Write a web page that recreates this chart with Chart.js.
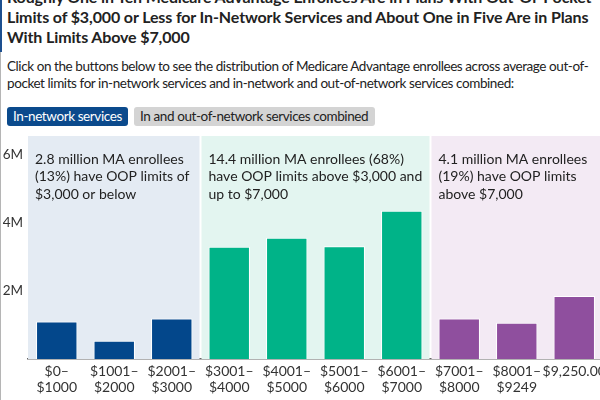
<!DOCTYPE html>
<html>
<head>
<meta charset="utf-8">
<script src="https://cdn.jsdelivr.net/npm/chart.js@4"></script>
<style>
  html, body { margin: 0; padding: 0; }
  body { width: 600px; height: 400px; overflow: hidden; position: relative; background: #fff; font-family: Lato, sans-serif; color: #222; }
  #edge { position: absolute; left: 0; top: 0; width: 1px; height: 400px; background: #b5b5b5; }
  #edgeTop { position: absolute; left: 0; top: 0; width: 2px; height: 52px; background: #1d4f8f; }
  #title { position: absolute; left: 7px; top: -13px; font-weight: 700; font-size: 16px; line-height: 20px; letter-spacing: -0.13px; white-space: nowrap; color: #222; }
  #sub { position: absolute; left: 7px; top: 58px; font-size: 13.5px; line-height: 17px; letter-spacing: -0.42px; white-space: nowrap; color: #222; }
  .btn { position: absolute; top: 107px; height: 19px; line-height: 19px; font-size: 13.5px; letter-spacing: -0.4px; border-radius: 3px; padding: 0 0 0 6px; white-space: nowrap; box-sizing: border-box; }
  #btn1 { left: 7px; width: 121px; background: #0b4a8c; color: #fff; }
  #btn2 { left: 134px; width: 241px; background: #d4d4d4; color: #222; }
  #wrap { position: absolute; left: 0; top: 130px; width: 620px; height: 270px; }
</style>
</head>
<body>
<div id="edge"></div>
<div id="edgeTop"></div>
<div id="title">Roughly One in Ten Medicare Advantage Enrollees Are in Plans With Out-Of-Pocket<br>Limits of $3,000 or Less for In-Network Services and About One in Five Are in Plans<br>With Limits Above $7,000</div>
<div id="sub">Click on the buttons below to see the distribution of Medicare Advantage enrollees across average out-of-<br>pocket limits for in-network services and in-network and out-of-network services combined:</div>
<div class="btn" id="btn1">In-network services</div>
<div class="btn" id="btn2">In and out-of-network services combined</div>
<div id="wrap"><canvas id="chart" width="620" height="270"></canvas></div>

<script>
// Categories (out-of-pocket limit ranges)
const limitLabels = [
    ['$0–', '$1000'], ['$1001–', '$2000'], ['$2001–', '$3000'],
    ['$3001–', '$4000'], ['$4001–', '$5000'], ['$5001–', '$6000'], ['$6001–', '$7000'],
    ['$7001–', '$8000'], ['$8001–', '$9249'], '$9,250.00'
];

// Enrollees per range
const enrollees = [1100000, 540000, 1190000, 3300000, 3570000, 3320000, 4360000, 1190000, 1070000, 1850000];

// Groups
const groupStart = [0, 3, 7];
const groupEnd = [2, 6, 9];
const groupBarColors = ['#03478b', '#00b388', '#8f4f9e'];
const groupBandColors = ['#e4ebf3', '#e3f5f0', '#f3eaf4'];
const groupNotes = [
    ['2.8 million MA enrollees', '(13%) have OOP limits of', '$3,000 or below'],
    ['14.4 million MA enrollees (68%)', 'have OOP limits above $3,000 and', 'up to $7,000'],
    ['4.1 million MA enrollees', '(19%) have OOP limits', 'above $7,000']
];

// Y Ticks
const yTicks = [2000000, 4000000, 6000000];

// Bar Colors
const barColors = enrollees.map(function (v, i) {
    let g = 0;
    for (let k = 0; k < groupStart.length; k++) {
        if (i >= groupStart[k] && i <= groupEnd[k]) { g = k; }
    }
    return groupBarColors[g];
});

// Bands Plugin
const bandsPlugin = {
    id: 'bands',
    beforeDatasetsDraw: function (chart) {
        const ctx = chart.ctx;
        const x = chart.scales.x;
        const area = chart.chartArea;
        const half = (x.getPixelForValue(1) - x.getPixelForValue(0)) / 2;
        ctx.save();
        for (let k = 0; k < groupStart.length; k++) {
            const x0 = x.getPixelForValue(groupStart[k]) - half + (k > 0 ? 1 : 0);
            const x1 = x.getPixelForValue(groupEnd[k]) + half - 1;
            ctx.fillStyle = groupBandColors[k];
            ctx.fillRect(x0, area.top, x1 - x0, area.bottom - area.top);

            // Note
            ctx.fillStyle = '#222';
            ctx.font = '14px Lato';
            ctx.textBaseline = 'middle';
            ctx.textAlign = 'left';
            groupNotes[k].forEach(function (line, j) {
                ctx.fillText(line, x0 + 7, area.top + 23 + j * 17.5);
            });
        }
        ctx.restore();
    }
};

Chart.defaults.font.family = 'Lato';
Chart.defaults.color = '#333';

const ctx = document.getElementById('chart').getContext('2d');
new Chart(ctx, {
    type: 'bar',
    data: {
        labels: limitLabels,
        datasets: [{
            data: enrollees,
            backgroundColor: barColors,
            borderColor: '#ffffff',
            borderWidth: 1,
            categoryPercentage: 1,
            barPercentage: 0.72
        }]
    },
    options: {
        responsive: false,
        animation: false,
        layout: { padding: { top: 6, right: 17, left: 0, bottom: 0 } },
        plugins: { legend: { display: false }, tooltip: { enabled: false } },
        scales: {
            x: {
                grid: { display: false, drawTicks: false },
                border: { display: true, color: '#666', width: 1.5 },
                ticks: { maxRotation: 0, autoSkip: false, padding: 4, color: '#333', font: { size: 14, lineHeight: 1.15 } },
                afterFit: function (scale) {
                    scale.height = 41;
                    scale.paddingLeft = 0;
                    scale.paddingRight = 0;
                }
            },
            y: {
                min: 0,
                max: 6560000,
                grid: { display: false, drawTicks: false },
                border: { display: false },
                afterBuildTicks: function (scale) { scale.ticks = yTicks.map(function (v) { return { value: v }; }); },
                ticks: {
                    padding: 5,
                    color: '#333',
                    font: { size: 13.5 },
                    callback: function (v) { return (v / 1000000) + 'M'; }
                },
                afterFit: function (scale) {
                    scale.width = 28;
                    scale.paddingTop = 0;
                    scale.paddingBottom = 0;
                }
            }
        }
    },
    plugins: [bandsPlugin]
});
</script>
</body>
</html>
